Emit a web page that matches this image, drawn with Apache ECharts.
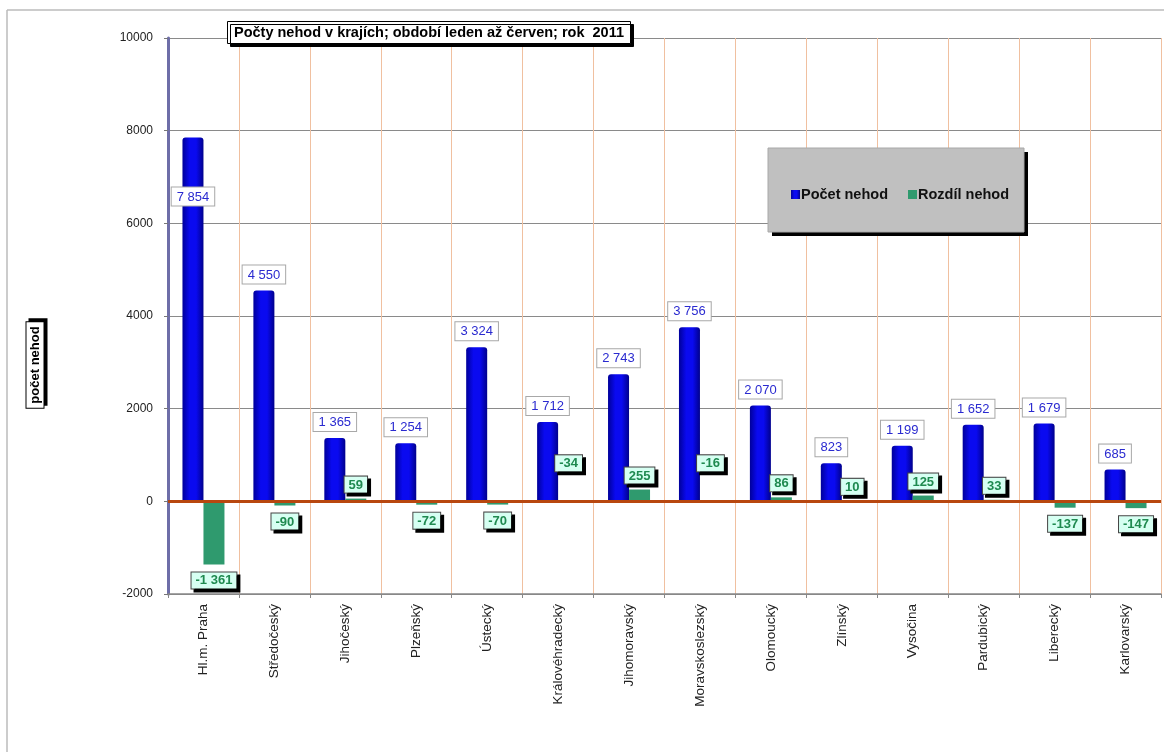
<!DOCTYPE html>
<html><head><meta charset="utf-8">
<script src="https://cdn.jsdelivr.net/npm/echarts@6/dist/echarts.min.js"></script>
<style>html,body{margin:0;padding:0;background:#fff}#c{width:1164px;height:756px}</style>
</head><body><div id="c"></div>
<script>
const categories = ['Hl.m. Praha','Středočeský','Jihočeský','Plzeňský','Ústecký','Královéhradecký','Jihomoravský','Moravskoslezský','Olomoucký','Zlínský','Vysočina','Pardubický','Liberecký','Karlovarský'];
const pocetNehod = [7854, 4550, 1365, 1254, 3324, 1712, 2743, 3756, 2070, 823, 1199, 1652, 1679, 685];
const rozdilNehod = [-1361, -90, 59, -72, -70, -34, 255, -16, 86, 10, 125, 33, -137, -147];
const yTicks = [-2000, 0, 2000, 4000, 6000, 8000, 10000];

const FONT = '"Liberation Sans Narrow","Arial Narrow","Liberation Sans",Arial,sans-serif';
function fmt(v){
  const s = Math.abs(v).toString().replace(/\B(?=(\d{3})+(?!\d))/g,' ');
  return (v<0?'-':'') + s;
}
const blueGrad = new echarts.graphic.LinearGradient(0,0,1,0,[
  {offset:0,color:'#00009a'},{offset:0.35,color:'#0a0af0'},{offset:0.65,color:'#0a0af0'},{offset:1,color:'#00008c'}]);

const blueData = pocetNehod.map((v,i)=>{
  const d = {value:v};
  if(i===0){ d.label = {position:'insideTop', distance:50}; }
  return d;
});
const greenData = rozdilNehod.map((v,i)=>{
  const d = {value:v};
  if(v<0 && Math.abs(v)<40){ d.label = {position:'top', distance:30}; }
  else if(v<0){ d.label = {position:'bottom', distance:8}; }
  return d;
});

const chart = echarts.init(document.getElementById('c'));
chart.setOption({
  animation:false,
  backgroundColor:'#fff',
  title:{
    text:'Počty nehod v krajích; období leden až červen; rok  2011',
    left:227, top:21,
    padding:[4,7,4,7],
    backgroundColor:'#fff', borderColor:'#000', borderWidth:1,
    shadowColor:'#000', shadowOffsetX:3, shadowOffsetY:3, shadowBlur:0,
    textStyle:{fontFamily:FONT, fontSize:14.5, fontWeight:'bold', color:'#000'}
  },
  legend:{
    left:786, top:182, z:20,
    itemWidth:9, itemHeight:9, itemGap:20,
    icon:'rect',
    data:['Počet nehod','Rozdíl nehod'],
    textStyle:{fontFamily:FONT, fontSize:14.5, fontWeight:'bold', color:'#111', padding:[0,0,0,-4]}
  },
  graphic:[
    {type:'line', shape:{x1:7,y1:10,x2:1164,y2:10}, style:{stroke:'#bbb', lineWidth:1.5}, z:-1},
    {type:'line', shape:{x1:7,y1:10,x2:7,y2:752}, style:{stroke:'#bbb', lineWidth:1.5}, z:-1},
    {type:'rect', shape:{x:772,y:152,width:256,height:84}, z:4, silent:true,
     style:{fill:'#000'}},
    {type:'rect', shape:{x:768,y:148,width:256,height:84}, z:4, silent:true,
     style:{fill:'#c0c0c0', stroke:'#a8a8a8', lineWidth:1}},
    {type:'text', x:35, y:365, rotation:Math.PI/2, z:10,
     style:{text:'počet nehod', fontFamily:FONT, fontSize:13, fontWeight:'bold', fill:'#000',
       align:'center', verticalAlign:'middle',
       backgroundColor:'#fff', borderColor:'#000', borderWidth:1, padding:[2,4,2,4],
       shadowColor:'#000', shadowOffsetX:3, shadowOffsetY:-3, shadowBlur:0}}
  ],
  grid:{left:168, right:3, top:38, bottom:162, containLabel:false},
  xAxis:{
    type:'category', data:categories, position:'bottom',
    axisLine:{onZero:false, lineStyle:{color:'#888', width:1.5}},
    axisTick:{show:true, length:4, lineStyle:{color:'#888'}},
    axisLabel:{rotate:90, interval:0, margin:10, fontFamily:FONT, fontSize:13.5, color:'#222'},
    splitLine:{show:true, lineStyle:{color:'#f0c0a0', width:1}}
  },
  yAxis:{
    type:'value', min:-2000, max:10000, interval:2000,
    axisLine:{show:true, lineStyle:{color:'#6e6ea8', width:3}},
    axisTick:{show:true, length:4, lineStyle:{color:'#777'}},
    axisLabel:{fontFamily:FONT, fontSize:12, color:'#222', margin:15,
      formatter:(v)=> yTicks.includes(v) ? String(v) : ''},
    splitLine:{show:true, lineStyle:{color:'#8a8a8a', width:1}}
  },
  series:[
    {
      name:'Počet nehod', type:'bar', data:blueData, barWidth:21, barGap:'0%',
      itemStyle:{color:blueGrad, borderRadius:[3,3,0,0]},
      label:{show:true, position:'top', distance:7, formatter:(p)=>fmt(p.value),
        fontFamily:FONT, fontSize:13, color:'#2a2ad0',
        backgroundColor:'#fff', borderColor:'#a8a8a8', borderWidth:1, padding:[3,5,2,5]},
      markLine:{silent:true, symbol:'none', label:{show:false},
        lineStyle:{color:'#b8470f', width:3, type:'solid'},
        data:[{yAxis:0}], z:4}
    },
    {
      name:'Rozdíl nehod', type:'bar', data:greenData, barWidth:21,
      itemStyle:{color:'#2f9a6e'},
      label:{show:true, position:'top', distance:6, formatter:(p)=>fmt(p.value),
        fontFamily:FONT, fontSize:13, fontWeight:'bold', color:'#1f8a50',
        backgroundColor:'#d6fff2', borderColor:'#444', borderWidth:1, padding:[2,4,1,4],
        shadowColor:'#000', shadowOffsetX:3, shadowOffsetY:3, shadowBlur:0}
    }
  ]
});
</script></body></html>
